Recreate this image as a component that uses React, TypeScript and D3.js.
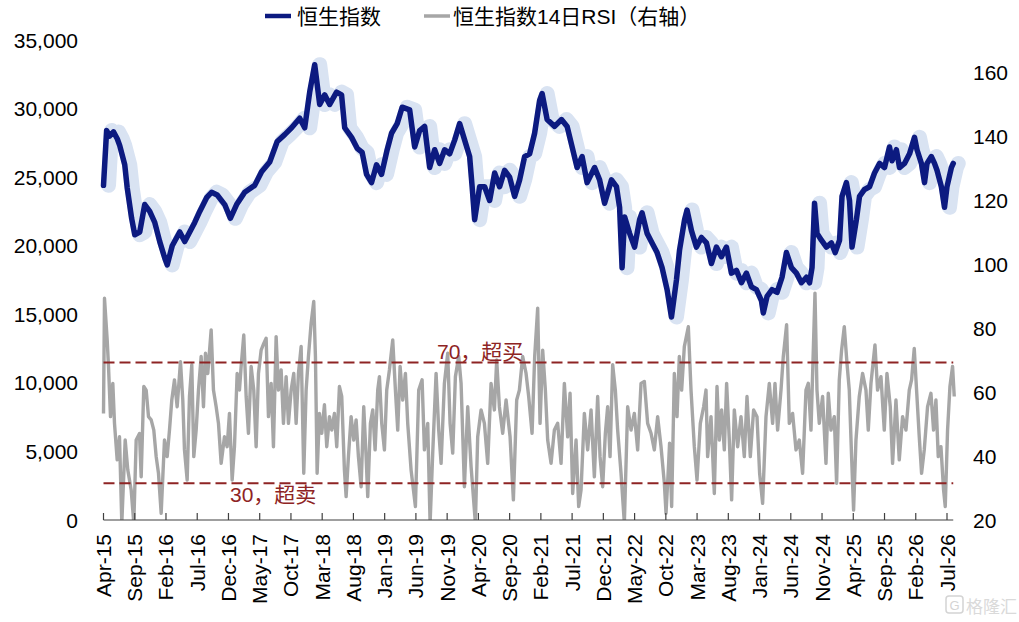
import React from 'react';
import * as d3 from 'd3';

// ---- data (month offsets from Apr-2015) ----
const xTickLabels = [
  'Apr-15', 'Sep-15', 'Feb-16', 'Jul-16', 'Dec-16', 'May-17', 'Oct-17', 'Mar-18', 'Aug-18', 'Jan-19',
  'Jun-19', 'Nov-19', 'Apr-20', 'Sep-20', 'Feb-21', 'Jul-21', 'Dec-21', 'May-22', 'Oct-22', 'Mar-23',
  'Aug-23', 'Jan-24', 'Jun-24', 'Nov-24', 'Apr-25', 'Sep-25', 'Feb-26', 'Jul-26',
];
const leftTicks = [0, 5000, 10000, 15000, 20000, 25000, 30000, 35000];
const rightTicks = [20, 40, 60, 80, 100, 120, 140, 160];

const legendNames = ['恒生指数', '恒生指数14日RSI（右轴）'];
const overbought = { value: 69.2, label: '70，超买' };
const oversold = { value: 31.5, label: '30，超卖' };

const hsiSeries: [number, number][] = [
  [0, 24400], [0.5, 28400], [1.0, 28000], [1.6, 28300], [2.2, 27800], [2.6, 27300], [3.4, 25900], [3.8, 24200],
  [4.5, 22000], [5.0, 20800], [5.8, 21000], [6.6, 23000], [7.4, 22500], [8.2, 21700], [9.0, 20300], [9.8, 19100],
  [10.2, 18600], [11.0, 20000], [12.2, 21000], [13.0, 20300], [13.8, 21000], [14.6, 21700], [15.4, 22500],
  [16.5, 23500], [17.3, 23900], [18.2, 23700], [19.4, 23000], [20.3, 22000], [21.3, 23000], [22.6, 23900],
  [24.2, 24400], [25.3, 25400], [26.6, 26100], [27.8, 27600], [29.0, 28100], [30.1, 28600], [31.4, 29300],
  [32.2, 28600], [33.0, 31200], [33.8, 33200], [34.6, 30300], [35.4, 31000], [36.2, 30300], [37.3, 31200],
  [38.1, 31000], [38.6, 28600], [39.7, 27900], [40.6, 27100], [41.4, 26800], [42.1, 25200], [42.9, 24600],
  [43.7, 25900], [44.5, 25200], [45.4, 27000], [46.1, 28200], [47.0, 28900], [47.8, 30100], [49.0, 29900],
  [49.8, 27200], [50.6, 28400], [51.4, 28700], [52.2, 25700], [53.0, 27000], [53.8, 26000], [54.6, 27000],
  [55.4, 26700], [56.2, 27700], [57.0, 28900], [57.8, 27700], [58.6, 26500], [59.0, 24300], [59.4, 21900],
  [60.2, 24300], [61.0, 24300], [61.8, 23300], [62.6, 25300], [63.4, 24300], [64.2, 25500], [65.0, 25000],
  [65.8, 23600], [66.6, 24800], [67.4, 26500], [68.2, 26700], [69.0, 28200], [69.8, 30600], [70.2, 31100],
  [71.0, 29200], [72.2, 28700], [73.3, 29200], [74.2, 28700], [75.0, 27200], [75.8, 25700], [76.6, 26500],
  [77.4, 24600], [78.6, 25700], [79.4, 24800], [80.2, 23100], [81.3, 24800], [82.1, 24300], [82.6, 22800],
  [83.0, 18400], [83.4, 22100], [84.2, 20900], [85.0, 19900], [85.8, 21900], [86.2, 22400], [87.0, 20900],
  [87.8, 20200], [88.6, 19500], [89.4, 18400], [90.2, 16800], [90.9, 14800], [91.7, 17500], [92.2, 19700],
  [93.0, 21900], [93.4, 22600], [94.1, 21100], [94.9, 19900], [95.7, 20600], [96.5, 20200], [97.3, 18700],
  [98.1, 19900], [98.9, 19200], [99.7, 19900], [100.5, 18000], [101.3, 18200], [102.1, 17300], [102.9, 18000],
  [103.7, 17000], [104.5, 16800], [105.3, 16000], [105.6, 15100], [106.2, 16300], [107.0, 16800], [107.8, 16600],
  [108.6, 17700], [109.3, 19500], [110.1, 18400], [110.9, 18000], [111.7, 17300], [112.5, 17700], [113.0, 17300],
  [113.4, 18400], [113.8, 23100], [114.2, 20900], [114.9, 20400], [115.7, 19900], [116.5, 20200], [117.1, 19500],
  [117.8, 20400], [118.2, 23600], [118.9, 24600], [119.4, 23300], [119.8, 19900], [120.5, 21900], [121.0, 23600],
  [121.8, 24100], [122.6, 24300], [123.4, 25300], [124.2, 26000], [125.0, 25700], [125.8, 27200], [126.2, 26200],
  [126.9, 27000], [127.4, 25700], [128.2, 26000], [129.0, 26700], [129.8, 27900], [130.2, 27000], [130.9, 26000],
  [131.4, 24600], [131.8, 26000], [132.5, 26500], [133.0, 26000], [133.4, 25500], [134.1, 24300], [134.6, 22800],
  [135.0, 24300], [135.7, 25700], [136.0, 26000],
];

const rsiSeries: [number, number][] = [
  [0, 53.3], [0.16, 89.3], [0.59, 76.3], [0.8, 68], [1.12, 52.3], [1.49, 62.7], [1.76, 50.2], [2.19, 38.8],
  [2.56, 46], [2.93, 19], [3.47, 45], [3.89, 35.6], [4.43, 29.4], [4.85, 19], [5.23, 45], [5.76, 47], [6.03, 33.5],
  [6.45, 61.7], [6.83, 60.6], [7.2, 52.3], [7.63, 51.3], [8.05, 48.1], [8.43, 39.8], [8.8, 34.6], [9.23, 22.1],
  [9.76, 45], [10.19, 39.8], [10.56, 48.1], [10.93, 57.5], [11.36, 63.8], [11.79, 55.4], [12.32, 69.5],
  [12.69, 57.5], [12.96, 41.9], [13.39, 32.5], [13.76, 58.6], [14.13, 68.5], [14.45, 39.8], [14.83, 48.1],
  [15.2, 60.6], [15.63, 71.1], [16.0, 55.4], [16.32, 72.1], [16.69, 65.8], [17.23, 79.4], [17.6, 60.6],
  [18.03, 55.4], [18.4, 50.2], [18.83, 37.7], [19.36, 46], [19.79, 42.9], [20.16, 53.3], [20.59, 32.5],
  [20.96, 42.9], [21.39, 65.8], [21.76, 60.6], [22.03, 68], [22.45, 77.8], [22.83, 58.6], [23.2, 47.1],
  [23.63, 68], [24.05, 60.6], [24.43, 42.9], [24.8, 65.8], [25.23, 73.1], [25.65, 75.2], [26.03, 76.8],
  [26.4, 52.3], [26.83, 62.7], [27.2, 42.9], [27.63, 77.3], [28.0, 60.6], [28.43, 66.9], [28.8, 50.2],
  [29.23, 64.8], [29.6, 50.2], [30.03, 60.6], [30.45, 65.8], [30.83, 50.2], [31.2, 65.8], [31.63, 74.2],
  [32.05, 34.6], [32.43, 60.6], [32.8, 71.1], [33.23, 81.5], [33.65, 88.3], [33.92, 71.1], [34.19, 34.6],
  [34.56, 53.3], [34.93, 47.1], [35.36, 56], [35.73, 42.9], [36.16, 52.3], [36.53, 48.1], [36.96, 53.3],
  [37.33, 42.9], [37.76, 61.7], [38.13, 58.6], [38.56, 35.6], [38.83, 27.3], [39.2, 39.8], [39.63, 52.3],
  [40.05, 45], [40.43, 51.3], [40.8, 39.8], [41.23, 30.4], [41.65, 55.4], [42.03, 39.8], [42.29, 27.3],
  [42.72, 50.2], [43.09, 54.4], [43.47, 41.9], [43.89, 60.6], [44.16, 64.8], [44.53, 50.2],
  [44.96, 41.9], [45.33, 60.6], [45.76, 66.9], [46.29, 76.3], [46.72, 60.6], [47.09, 48.1], [47.47, 68],
  [47.89, 57.5], [48.32, 65.8], [48.69, 50.2], [49.23, 35.6], [49.92, 24.2], [50.45, 60.6], [50.99, 63.8],
  [51.36, 41.9], [51.89, 50.2], [52.27, 19], [52.69, 40.9], [53.23, 65.8], [53.65, 48.1], [54.03, 37.7],
  [54.56, 62.7], [55.09, 72.1], [55.47, 50.2], [55.89, 40.9], [56.32, 64.8], [56.85, 71.1], [57.23, 62.7],
  [57.76, 30.4], [58.29, 55.4], [58.83, 36.7], [59.52, 19], [59.89, 46], [60.43, 54.4], [60.96, 50.2],
  [61.49, 37.7], [62.03, 62.7], [62.56, 54.4], [62.93, 70], [63.36, 55.4], [63.89, 47.1], [64.43, 57.5],
  [65.07, 46], [65.6, 26.3], [66.13, 57.5], [66.56, 60.6], [67.09, 71.1], [67.63, 65.8], [68.05, 58.6],
  [68.59, 47.1], [69.01, 71.1], [69.49, 86.2], [69.87, 50.2], [70.29, 73.1], [70.72, 60.6], [71.09, 45],
  [71.63, 37.7], [72.16, 48.1], [72.69, 50.2], [73.23, 37.7], [73.76, 62.7], [74.29, 46], [74.67, 59.6],
  [75.09, 28.3], [75.63, 45], [76.05, 24.2], [76.43, 29.4], [76.96, 53.3], [77.49, 41.9], [78.03, 54.4],
  [78.56, 33.5], [79.09, 58.6], [79.47, 39.8], [79.89, 30.4], [80.32, 47.1], [80.69, 55.4], [81.07, 39.8],
  [81.49, 68.5], [81.92, 60.6], [82.29, 48.1], [82.83, 34.6], [83.36, 19], [83.89, 55.4], [84.43, 48.1],
  [84.96, 53.3], [85.49, 41.9], [86.03, 62.7], [86.56, 63.3], [87.09, 50.2], [87.63, 47.1], [88.16, 41.9],
  [88.69, 52.3], [89.23, 42.9], [89.76, 31.5], [90.03, 22.1], [90.45, 37.7], [90.6, 44], [90.93, 24.2],
  [91.36, 65.8], [91.79, 52.3], [92.16, 71.1], [92.53, 60.6], [92.96, 74.2], [93.6, 80.4], [94.03, 60.6],
  [94.56, 42.9], [94.99, 32.5], [95.52, 50.2], [96.05, 55.4], [96.43, 60.6], [96.69, 39.8], [97.23, 52.3],
  [97.76, 28.3], [98.19, 61.7], [98.56, 45], [98.93, 54.4], [99.36, 41.9], [99.73, 62.7], [100.16, 45],
  [100.53, 26.3], [100.96, 54.4], [101.49, 42.9], [102.03, 52.3], [102.56, 39.8], [102.99, 58.6],
  [103.52, 39.8], [104.05, 54.4], [104.59, 52.3], [105.01, 34.6], [105.49, 25.2], [106.03, 52.3],
  [106.56, 62.7], [107.09, 50.2], [107.47, 62.7], [107.89, 48.1], [108.43, 60.6], [108.8, 71.1], [109.33, 81],
  [109.76, 50.2], [110.29, 53.3], [110.83, 41.9], [111.36, 45], [111.89, 34.6], [112.43, 60.6], [112.8, 62.7],
  [113.23, 48.1], [113.65, 76.3], [113.87, 90.9], [114.19, 60.6], [114.56, 50.2], [115.09, 58.6],
  [115.63, 37.7], [116.0, 59.6], [116.43, 48.1], [116.96, 52.3], [117.33, 31.5], [117.76, 63.8],
  [118.13, 73.1], [118.56, 80.4], [118.99, 69], [119.36, 60.6], [119.73, 39.8], [120.05, 23.1], [120.43, 45],
  [120.96, 58.6], [121.49, 65.8], [122.03, 60.6], [122.4, 48.1], [122.83, 62.7], [123.47, 74.7],
  [123.89, 60.6], [124.43, 64.8], [124.96, 48.1], [125.39, 65.8], [125.92, 55.4], [126.29, 37.7],
  [126.83, 57.5], [127.36, 38.8], [127.89, 52.3], [128.43, 48.1], [128.96, 60.6], [129.33, 63.8],
  [129.76, 73.6], [130.13, 60.6], [130.56, 46], [130.93, 34.6], [131.36, 41.9], [131.89, 55.4],
  [132.43, 59.6], [132.85, 48.1], [133.23, 57.5], [133.6, 39.8], [134.03, 42.9], [134.45, 29.4],
  [134.72, 24.2], [135.09, 48.1], [135.47, 61.7], [135.89, 68], [136.16, 58.6],
];

// ---- styles ----
const FONT = '"Liberation Sans", Arial, "Noto Sans CJK SC", sans-serif';
const NAVY = '#0c1a80';
const BAND = '#d9e3f2';
const GREY = '#a6a6a6';
const RED = '#8e2424';

export default function App() {
  const W = 1019;
  const H = 622;
  const plotTop = 40;
  const plotBottom = 520;

  const x = d3.scaleLinear().domain([0, 135]).range([103.5, 947]);
  const yL = d3.scaleLinear().domain([0, 35000]).range([plotBottom, plotTop]);
  const yR = d3.scaleLinear().domain([20, 170]).range([plotBottom, plotTop]);

  const lastMonth = hsiSeries[hsiSeries.length - 1][0];
  const xEnd = x(lastMonth);

  const hsiLine = d3.line<[number, number]>().x((d) => x(d[0])).y((d) => yL(d[1]));
  const rsiLine = d3.line<[number, number]>().x((d) => x(d[0])).y((d) => yR(d[1]));

  const hsiPath = hsiLine(hsiSeries) || '';
  const rsiPath = rsiLine(rsiSeries) || '';

  return (
    <svg
      width={W}
      height={H}
      viewBox={`0 0 ${W} ${H}`}
      style={{ position: 'absolute', left: 0, top: 0, display: 'block', background: '#fff' }}
      fontFamily={FONT}
    >
      <defs>
        <clipPath id="plotClip">
          <rect x={0} y={0} width={W} height={plotBottom} />
        </clipPath>
      </defs>
      <rect x={0} y={0} width={W} height={H} fill="#fff" />

      {/* legend */}
      <g>
        <line x1={265} x2={291} y1={16} y2={16} stroke={NAVY} strokeWidth={4.5} />
        <text x={297} y={16} dominantBaseline="central" fontSize={21} fill="#000">{legendNames[0]}</text>
        <line x1={424} x2={450} y1={16} y2={16} stroke={GREY} strokeWidth={3.5} />
        <text x={453} y={16} dominantBaseline="central" fontSize={21} fill="#000">{legendNames[1]}</text>
      </g>

      {/* RSI */}
      <g clipPath="url(#plotClip)">
        <path d={rsiPath} fill="none" stroke={GREY} strokeWidth={3.4} strokeLinejoin="round" />
      </g>

      {/* HSI band + line */}
      <path d={hsiPath} fill="none" stroke={BAND} strokeWidth={15} strokeLinejoin="round" strokeLinecap="round"
        transform="translate(5,0)" />
      <path d={hsiPath} fill="none" stroke={NAVY} strokeWidth={5.5} strokeLinejoin="round" strokeLinecap="round" />

      {/* threshold lines */}
      {[overbought, oversold].map((t, i) => (
        <line key={i} x1={x(0)} x2={xEnd} y1={yR(t.value)} y2={yR(t.value)}
          stroke={RED} strokeWidth={2} strokeDasharray="11 5" />
      ))}
      <text x={437} y={yR(overbought.value) - 4} fontSize={21} fill={RED}>{overbought.label}</text>
      <text x={230} y={yR(oversold.value) + 19} fontSize={21} fill={RED}>{oversold.label}</text>

      {/* x axis */}
      <line x1={x(0)} x2={xEnd} y1={plotBottom} y2={plotBottom} stroke="#404040" strokeWidth={1.2} />
      {xTickLabels.map((lab, i) => {
        const xp = x(i * 5);
        return (
          <g key={lab}>
            <line x1={xp} x2={xp} y1={plotBottom} y2={plotBottom - 7} stroke="#404040" strokeWidth={1.2} />
            <text transform={`translate(${xp},534) rotate(-90)`} textAnchor="end" dominantBaseline="central"
              fontSize={21} fill="#000">{lab}</text>
          </g>
        );
      })}

      {/* left axis labels */}
      {leftTicks.map((v) => (
        <text key={v} x={78} y={yL(v)} textAnchor="end" dominantBaseline="central" fontSize={21} fill="#000">
          {d3.format(',')(v)}
        </text>
      ))}

      {/* right axis labels */}
      {rightTicks.map((v) => (
        <text key={v} x={973} y={yR(v)} textAnchor="start" dominantBaseline="central" fontSize={21} fill="#000">
          {v}
        </text>
      ))}

      {/* watermark */}
      <g opacity={0.9}>
        <rect x={946} y={596} width={17} height={17} rx={3} fill="none" stroke="#d0d0d0" strokeWidth={1.5} />
        <text x={954.5} y={605} textAnchor="middle" dominantBaseline="central" fontSize={13} fill="#d0d0d0">G</text>
        <text x={966} y={605} dominantBaseline="central" fontSize={17} fill="#d6d6d6"
          fontFamily='"Noto Sans CJK SC", sans-serif'>格隆汇</text>
      </g>
    </svg>
  );
}
